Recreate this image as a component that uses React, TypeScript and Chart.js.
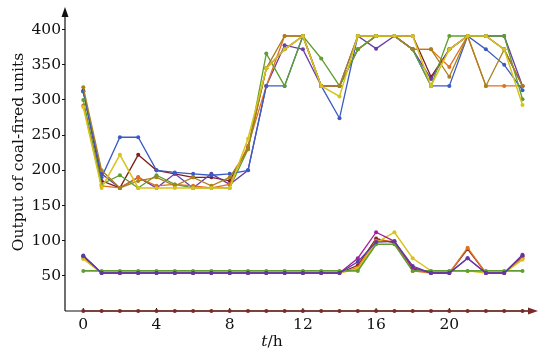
import React, { useEffect, useRef } from "react";
import { Chart, registerables } from "chart.js";

Chart.register(...registerables);

const hours = [0, 1, 2, 3, 4, 5, 6, 7, 8, 9, 10, 11, 12, 13, 14, 15, 16, 17, 18, 19, 20, 21, 22, 23, 24];
const yTickValues = [50, 100, 150, 200, 250, 300, 350, 400];
const xTickValues = [0, 4, 8, 12, 16, 20];

// upper group (large units)
const unitBlue = [312, 190, 247, 247, 200, 197, 195, 193, 195, 200, 320, 320, 391, 320, 274, 391, 391, 391, 372, 320, 320, 391, 372, 350, 314];
const unitPurple = [312, 195, 175, 190, 175, 195, 175, 195, 180, 200, 320, 378, 372, 320, 320, 391, 373, 391, 372, 330, 372, 391, 391, 391, 320];
const unitGreen = [300, 180, 193, 175, 193, 180, 175, 175, 175, 230, 366, 320, 391, 359, 320, 372, 391, 391, 372, 320, 391, 391, 391, 391, 301];
const unitYellow = [290, 175, 222, 175, 175, 175, 175, 175, 175, 245, 345, 372, 391, 320, 305, 391, 391, 391, 391, 320, 372, 391, 391, 372, 293];
const unitOrange = [292, 178, 175, 190, 178, 180, 178, 175, 180, 235, 320, 391, 391, 320, 320, 372, 391, 391, 372, 372, 347, 391, 320, 320, 320];
const unitOlive = [318, 200, 175, 185, 190, 178, 190, 178, 190, 230, 345, 391, 391, 320, 320, 391, 391, 391, 372, 372, 333, 391, 320, 372, 320];
const unitDarkRed = [313, 185, 175, 222, 200, 195, 190, 190, 185, 232, 345, 372, 391, 320, 320, 372, 391, 391, 391, 333, 372, 391, 391, 372, 320];

// lower group (small units)
const smallPurple = [78, 54, 54, 54, 54, 54, 54, 54, 54, 54, 54, 54, 54, 54, 54, 75, 112, 99, 62, 54, 54, 75, 54, 54, 80];
const smallOrange = [75, 54, 54, 54, 54, 54, 54, 54, 54, 54, 54, 54, 54, 54, 54, 62, 100, 99, 57, 54, 54, 90, 54, 54, 75];
const smallYellow = [74, 54, 54, 54, 54, 54, 54, 54, 54, 54, 54, 54, 54, 54, 54, 60, 97, 112, 75, 57, 57, 57, 54, 54, 73];
const smallGreen = [57, 57, 57, 57, 57, 57, 57, 57, 57, 57, 57, 57, 57, 57, 57, 57, 95, 95, 57, 57, 57, 57, 57, 57, 57];
const smallDarkRed = [78, 54, 54, 54, 54, 54, 54, 54, 54, 54, 54, 54, 54, 54, 54, 65, 103, 97, 60, 54, 54, 88, 54, 54, 78];
const smallViolet = [79, 54, 54, 54, 54, 54, 54, 54, 54, 54, 54, 54, 54, 54, 54, 70, 98, 99, 64, 54, 54, 75, 54, 54, 79];
const offUnit = [0, 0, 0, 0, 0, 0, 0, 0, 0, 0, 0, 0, 0, 0, 0, 0, 0, 0, 0, 0, 0, 0, 0, 0, 0];

const FONT = "'DejaVu Serif', serif";
const FSIZE = 15.5;
const DARKRED = "#7a2a28";

const axesPlugin = {
  id: "axesPlugin",
  beforeDatasetsDraw(chart: any) {
    const { ctx, chartArea } = chart;
    const { left, right, top, bottom } = chartArea;
    ctx.save();
    ctx.strokeStyle = "#111";
    ctx.lineWidth = 1.2;
    ctx.beginPath();
    ctx.moveTo(left, bottom);
    ctx.lineTo(left, top);
    ctx.moveTo(left, bottom);
    ctx.lineTo(right, bottom);
    ctx.stroke();
    const xs = chart.scales.x;
    ctx.lineWidth = 1;
    xTickValues.forEach((v) => {
      const px = xs.getPixelForValue(v);
      ctx.beginPath();
      ctx.moveTo(px, bottom);
      ctx.lineTo(px, bottom - 3);
      ctx.stroke();
    });
    ctx.restore();
  },
  afterDraw(chart: any) {
    const { ctx, chartArea } = chart;
    const { left, right, top, bottom } = chartArea;
    const xs = chart.scales.x;
    ctx.save();
    ctx.fillStyle = "#111";
    ctx.beginPath();
    ctx.moveTo(left, top - 10);
    ctx.lineTo(left - 3.5, top);
    ctx.lineTo(left + 3.5, top);
    ctx.closePath();
    ctx.fill();
    ctx.strokeStyle = DARKRED;
    ctx.lineWidth = 1.3;
    ctx.beginPath();
    ctx.moveTo(xs.getPixelForValue(24), bottom);
    ctx.lineTo(right, bottom);
    ctx.stroke();
    ctx.fillStyle = DARKRED;
    ctx.beginPath();
    ctx.moveTo(right + 10, bottom);
    ctx.lineTo(right, bottom - 3.5);
    ctx.lineTo(right, bottom + 3.5);
    ctx.closePath();
    ctx.fill();
    ctx.fillStyle = "#111";
    ctx.font = `${FSIZE}px ${FONT}`;
    ctx.textAlign = "center";
    ctx.textBaseline = "middle";
    ctx.translate(19, 152);
    ctx.rotate(-Math.PI / 2);
    ctx.fillText("Output of coal-fired units", 0, 0);
    ctx.restore();
    ctx.save();
    ctx.fillStyle = "#111";
    ctx.textBaseline = "alphabetic";
    ctx.textAlign = "left";
    ctx.font = `italic ${FSIZE}px ${FONT}`;
    const tW = ctx.measureText("t").width;
    ctx.font = `${FSIZE}px ${FONT}`;
    const rW = ctx.measureText("/h").width;
    const cx = 272;
    const x0 = cx - (tW + rW) / 2;
    ctx.font = `italic ${FSIZE}px ${FONT}`;
    ctx.fillText("t", x0, 346);
    ctx.font = `${FSIZE}px ${FONT}`;
    ctx.fillText("/h", x0 + tW, 346);
    ctx.restore();
  },
};

function ds(values: number[], color: string, width = 1.3, radius = 2) {
  return {
    data: hours.map((h, i) => ({ x: h, y: values[i] })),
    borderColor: color,
    backgroundColor: color,
    borderWidth: width,
    pointRadius: radius,
    pointHoverRadius: radius,
    pointBorderWidth: 0,
    tension: 0,
    clip: false as any,
  };
}

export default function App() {
  const ref = useRef<HTMLCanvasElement | null>(null);
  useEffect(() => {
    document.body.style.margin = "0";
    const canvas = ref.current!;
    // Chart.js paints dataset 0 last (on top)
    const chart = new Chart(canvas, {
      type: "line",
      data: {
        datasets: [
          ds(offUnit, DARKRED, 1.3, 2),
          ds(smallViolet, "#5b3aa8", 1.3),
          ds(smallPurple, "#a0209a", 1.3),
          ds(smallGreen, "#5f9e2f", 1.6),
          ds(smallYellow, "#d8c31c", 1.4),
          ds(smallOrange, "#e0781f", 1.3),
          ds(smallDarkRed, "#8a2525", 1.3),
          ds(unitYellow, "#d8c31c", 1.5),
          ds(unitOlive, "#a8801e"),
          ds(unitGreen, "#5f9e2f"),
          ds(unitBlue, "#3b5bc4"),
          ds(unitOrange, "#e0701f"),
          ds(unitPurple, "#6a3ca8"),
          ds(unitDarkRed, "#7e1f1f"),
        ] as any,
      },
      options: {
        animation: false,
        responsive: false,
        events: [],
        layout: { padding: { top: 17, right: 22, left: 0, bottom: 0 } },
        plugins: { legend: { display: false }, tooltip: { enabled: false } },
        scales: {
          x: {
            type: "linear",
            min: -1,
            max: 24.3,
            afterBuildTicks: (s: any) => {
              s.ticks = xTickValues.map((v) => ({ value: v }));
            },
            afterFit: (s: any) => {
              s.height = 42;
            },
            grid: { display: false, drawTicks: false },
            border: { display: false },
            ticks: {
              autoSkip: false,
              maxRotation: 0,
              padding: 5,
              color: "#111",
              font: { family: FONT, size: FSIZE },
            },
          },
          y: {
            type: "linear",
            min: 0,
            max: 418,
            afterBuildTicks: (s: any) => {
              s.ticks = yTickValues.map((v) => ({ value: v }));
            },
            afterFit: (s: any) => {
              s.width = 65;
            },
            grid: { display: true, drawOnChartArea: false, drawTicks: true, tickLength: 3, color: "#111" },
            border: { display: false },
            ticks: {
              autoSkip: false,
              padding: 1,
              color: "#111",
              font: { family: FONT, size: FSIZE },
            },
          },
        },
      },
      plugins: [axesPlugin],
    });
    return () => chart.destroy();
  }, []);
  return <canvas ref={ref} width={550} height={353} style={{ display: "block" }} />;
}
